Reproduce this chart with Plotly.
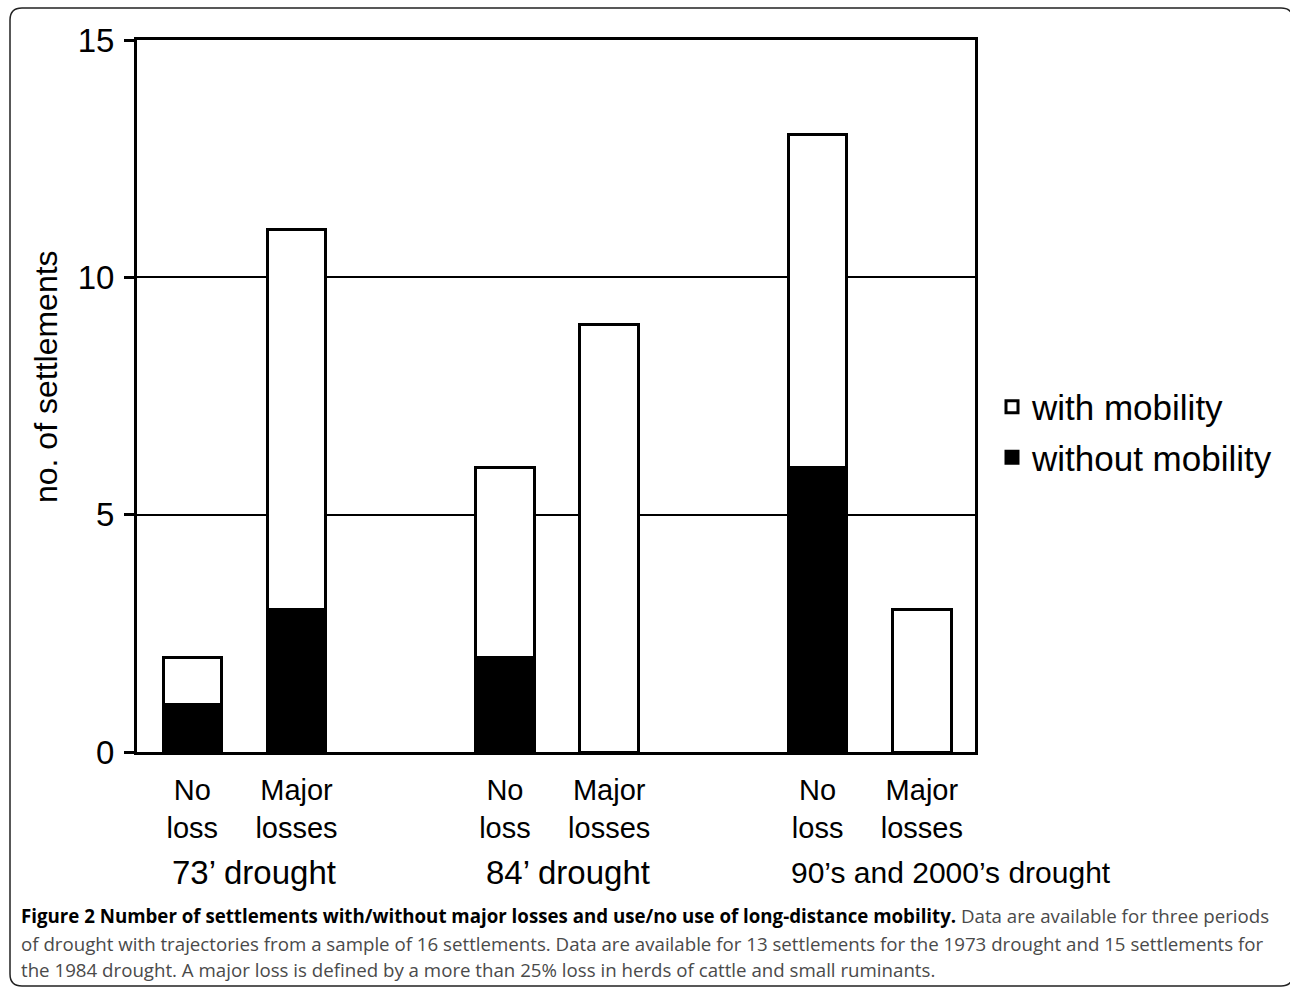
import plotly.graph_objects as go

# ---- data ----
x_pos = [0, 1, 3, 4, 6, 7]
tick_labels = ["No<br>loss", "Major<br>losses", "No<br>loss", "Major<br>losses", "No<br>loss", "Major<br>losses"]
without_mobility = [1, 3, 2, 0, 6, 0]
with_mobility = [1, 8, 4, 9, 7, 3]
group_labels = ["73’ drought", "84’ drought", "90’s and 2000’s drought"]
group_first_pos = [0, 3, 6]
y_ticks = [0, 5, 10, 15]
y_title = "no. of settlements"

# label styling (sizes and left offsets from the first bar of each group)
group_font_sizes = [33, 33, 30]
group_label_shift = [0.21, 0.20, 0.27]

caption_lines = [
    "<b>Figure 2 Number of settlements with/without major losses and use/no use of long-distance mobility.</b> "
    "<span style='color:#4a4a4a'>Data are available for three periods</span>",
    "<span style='color:#4a4a4a'>of drought with trajectories from a sample of 16 settlements. Data are available for 13 settlements for the 1973 drought and 15 settlements for</span>",
    "<span style='color:#4a4a4a'>the 1984 drought. A major loss is defined by a more than 25% loss in herds of cattle and small ruminants.</span>",
]

W, H = 1290, 989
L, R, T, B = 137, 975, 40, 752
pw, ph = R - L, B - T

def px(xp):
    return (xp - L) / pw

def py(yp):
    return (B - yp) / ph

FONT = "Liberation Sans, Arial, sans-serif"

fig = go.Figure()
fig.add_trace(go.Bar(
    x=x_pos, y=without_mobility, name="without mobility", width=0.56,
    marker=dict(color="black", line=dict(color="black", width=3)),
    legendgroup="a", legendrank=2,
))
fig.add_trace(go.Bar(
    x=x_pos, y=with_mobility, name="with mobility", width=0.56,
    marker=dict(color="white", line=dict(color="black", width=3)),
    legendgroup="b", legendrank=1,
))

annotations = []
for lbl, p, fs, sh in zip(group_labels, group_first_pos, group_font_sizes, group_label_shift):
    annotations.append(dict(
        x=p - sh, xref="x", y=py(872), yref="paper", text=lbl, showarrow=False,
        xanchor="left", yanchor="middle", font=dict(family=FONT, size=fs, color="black"),
    ))
# y-axis title
annotations.append(dict(
    x=px(46), xref="paper", y=py(377), yref="paper", text=y_title, showarrow=False,
    textangle=-90, xanchor="center", yanchor="middle",
    font=dict(family=FONT, size=32, color="black"),
))
cap_y = [915, 943, 970]
for line, yy in zip(caption_lines, cap_y):
    annotations.append(dict(
        x=px(19), xref="paper", y=py(yy), yref="paper", text=line, showarrow=False,
        xanchor="left", yanchor="middle", align="left",
        font=dict(family="Open Sans, sans-serif", size=18.7, color="black"),
    ))

# rounded figure border (right edge runs off the canvas)
x0, x1 = px(10), px(1293)
y0, y1 = py(986), py(8)
rx, ry = 12 / pw, 12 / ph
path = (f"M {x0+rx},{y1} L {x1-rx},{y1} Q {x1},{y1} {x1},{y1-ry} "
        f"L {x1},{y0+ry} Q {x1},{y0} {x1-rx},{y0} L {x0+rx},{y0} "
        f"Q {x0},{y0} {x0},{y0+ry} L {x0},{y1-ry} Q {x0},{y1} {x0+rx},{y1} Z")

fig.update_layout(
    width=W, height=H,
    margin=dict(l=L, r=W - R, t=T, b=H - B),
    paper_bgcolor="white", plot_bgcolor="white",
    barmode="stack",
    font=dict(family=FONT, size=29, color="black"),
    showlegend=True,
    legend=dict(
        x=px(992), xanchor="left", y=py(432), yanchor="middle",
        traceorder="grouped", tracegroupgap=2,
        font=dict(family=FONT, size=35, color="black"),
        bgcolor="rgba(0,0,0,0)", itemwidth=30,
    ),
    annotations=annotations,
    shapes=[dict(type="path", path=path, xref="paper", yref="paper",
                 line=dict(color="#222", width=1.5), layer="below")],
    xaxis=dict(
        range=[-0.53, 7.51], tickvals=x_pos, ticktext=tick_labels,
        showline=True, linecolor="black", linewidth=3, mirror=True,
        ticks="", showgrid=False, zeroline=False,
        tickfont=dict(family=FONT, size=29, color="black"),
        ticklabelstandoff=10,
    ),
    yaxis=dict(
        range=[0, 15], tickvals=y_ticks,
        showline=True, linecolor="black", linewidth=3, mirror=True,
        ticks="outside", ticklen=10, tickwidth=2.5, tickcolor="black",
        showgrid=True, gridcolor="black", gridwidth=1.5,
        zeroline=False,
        tickfont=dict(family=FONT, size=33, color="black"),
        ticklabelstandoff=3,
    ),
)

fig.write_html("out.html", config={"displayModeBar": False},
               post_script="document.body.style.margin='0px';")
